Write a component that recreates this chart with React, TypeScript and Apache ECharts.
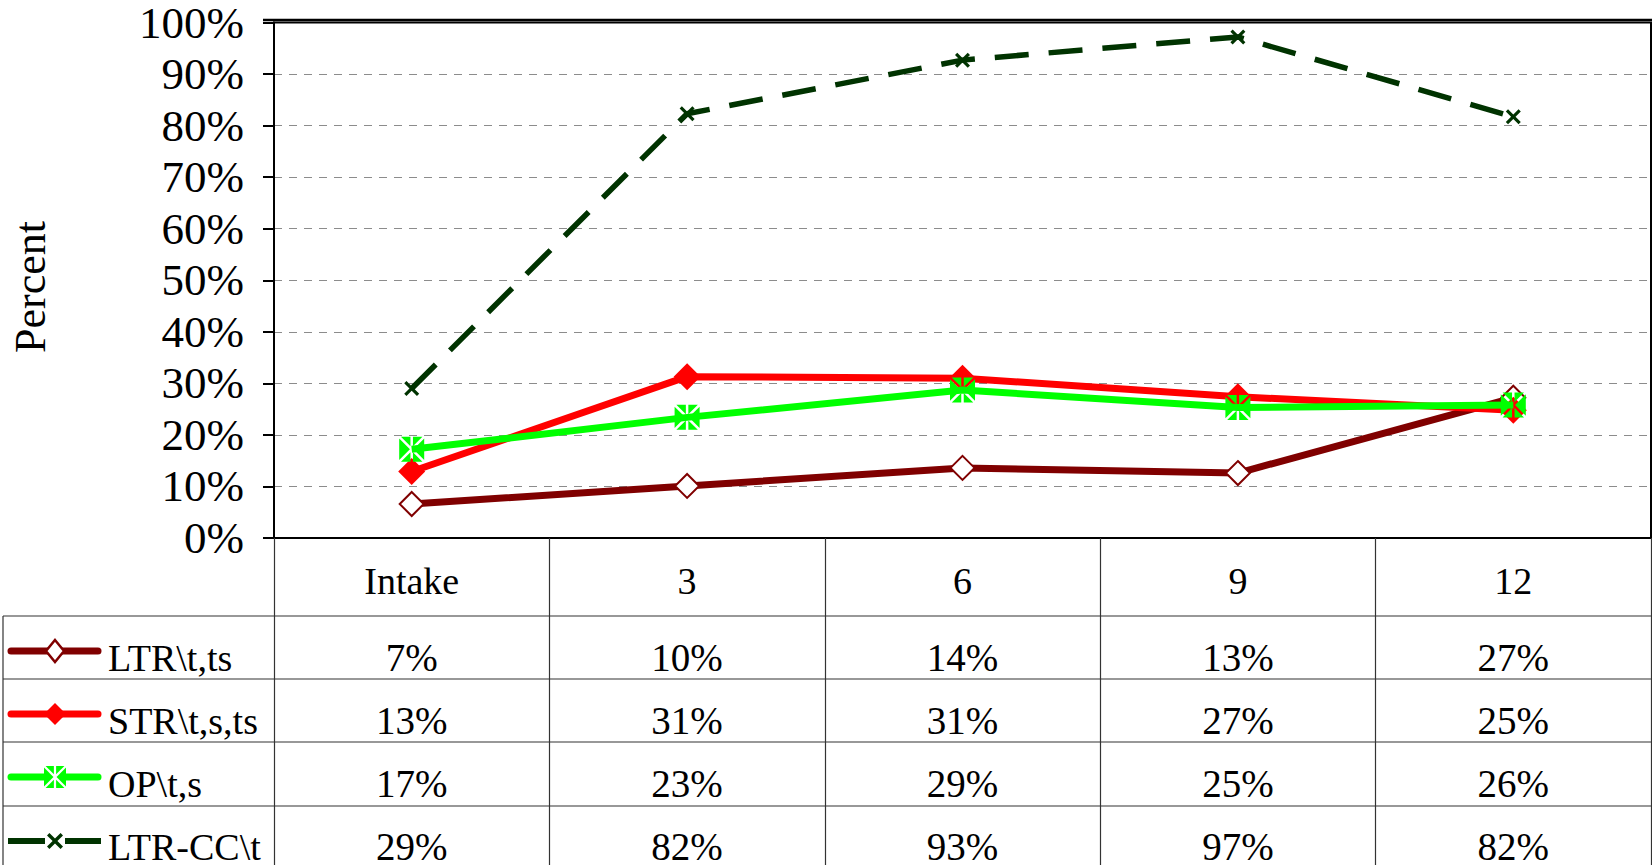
import React, { useEffect, useRef } from "react";
import * as echarts from "echarts";

const categories = ["Intake", "3", "6", "9", "12"];
const seriesNames = ["LTR\\t,ts", "STR\\t,s,ts", "OP\\t,s", "LTR-CC\\t"];
const ltr = [6.6, 10.1, 13.6, 12.6, 27.2];
const str = [12.9, 31.3, 31.0, 27.4, 24.8];
const op = [17.2, 23.4, 28.7, 25.3, 25.8];
const ltrcc = [29.0, 82.3, 92.7, 97.2, 81.7];
const yTicks = { min: 0, max: 100, interval: 10 };

const FONT = "'Liberation Serif', 'Times New Roman', serif";
const W = 1652;
const H = 865;
const GRID = { left: 274, top: 20, right: 1, bottom: 327 };
const COLORS = ["#800000", "#ff0000", "#00ff00", "#003300"];

// green square with a white asterisk cut into it (6 pieces in a 24x24 box)
const OP_PIECES: number[][][] = [
  [[1.7, 0], [10.8, 0], [10.8, 9.1]],
  [[13.2, 0], [22.3, 0], [13.2, 9.1]],
  [[24, 1.7], [24, 22.3], [13.7, 12]],
  [[13.2, 24], [22.3, 24], [13.2, 14.9]],
  [[1.7, 24], [10.8, 24], [10.8, 14.9]],
  [[0, 1.7], [0, 22.3], [10.3, 12]],
];
const X_PTS: number[][] = [
  [0, 1.5], [1.5, 0], [5, 3.5], [8.5, 0], [10, 1.5], [6.5, 5],
  [10, 8.5], [8.5, 10], [5, 6.5], [1.5, 10], [0, 8.5], [3.5, 5],
];
const toPath = (polys: number[][][]) =>
  "path://" +
  polys
    .map((p) => "M" + p.map((q) => q[0] + "," + q[1]).join(" L") + " Z")
    .join(" ");
const OP_SYMBOL = toPath(OP_PIECES);
const X_SYMBOL = toPath([X_PTS]);

export default function App() {
  const ref = useRef<HTMLDivElement>(null);

  useEffect(() => {
    document.body.style.margin = "0";
    document.body.style.overflow = "hidden";
    if (!ref.current) return;
    const chart = echarts.init(ref.current, null, { renderer: "svg", width: W, height: H });
    const allData = [ltr, str, op, ltrcc];

    chart.setOption({
      animation: false,
      backgroundColor: "#fff",
      tooltip: { show: false },
      grid: {
        left: GRID.left,
        top: GRID.top,
        right: GRID.right,
        bottom: GRID.bottom,
        show: true,
        borderColor: "#000",
        borderWidth: 2,
        backgroundColor: "transparent",
      },
      xAxis: {
        type: "category",
        data: categories,
        boundaryGap: true,
        axisLine: { show: true, lineStyle: { color: "#000", width: 2 } },
        axisTick: {
          show: true,
          length: 327,
          alignWithLabel: false,
          lineStyle: { color: "#333", width: 1.2 },
        },
        axisLabel: {
          fontFamily: FONT,
          fontSize: 38,
          color: "#000",
          margin: 24,
          lineHeight: 38,
        },
        splitLine: { show: false },
      },
      yAxis: {
        type: "value",
        min: yTicks.min,
        max: yTicks.max,
        interval: yTicks.interval,
        axisLine: { show: true, lineStyle: { color: "#000", width: 2 } },
        axisTick: { show: true, length: 11, lineStyle: { color: "#000", width: 2 } },
        axisLabel: {
          fontFamily: FONT,
          fontSize: 45,
          color: "#000",
          margin: 30,
          formatter: "{value}%",
        },
        splitLine: {
          show: true,
          showMinLine: false,
          showMaxLine: false,
          lineStyle: { color: "#8c8c8c", width: 1, type: [8, 7] },
        },
      },
      series: [
        {
          name: seriesNames[0],
          type: "line",
          data: ltr,
          symbol: "emptyDiamond",
          symbolSize: 24,
          lineStyle: { color: COLORS[0], width: 7 },
          itemStyle: { color: COLORS[0], borderWidth: 2.5 },
          emphasis: { disabled: true },
          z: 2,
        },
        {
          name: seriesNames[1],
          type: "line",
          data: str,
          symbol: "diamond",
          symbolSize: 27,
          lineStyle: { color: COLORS[1], width: 7 },
          itemStyle: { color: COLORS[1], borderWidth: 0 },
          emphasis: { disabled: true },
          z: 3,
        },
        {
          name: seriesNames[2],
          type: "line",
          data: op,
          symbol: OP_SYMBOL,
          symbolSize: 25,
          lineStyle: { color: COLORS[2], width: 7 },
          itemStyle: { color: COLORS[2], borderWidth: 0 },
          emphasis: { disabled: true },
          z: 4,
        },
        {
          name: seriesNames[3],
          type: "line",
          data: ltrcc,
          symbol: X_SYMBOL,
          symbolSize: 15,
          lineStyle: { color: COLORS[3], width: 5.5, type: [34, 20] },
          itemStyle: { color: COLORS[3], borderWidth: 0 },
          emphasis: { disabled: true },
          z: 5,
        },
      ],
    });

    const rowTops = [616, 679, 742, 806];
    const rowTextY = [657, 720, 783, 846];
    const graphics: any[] = [];

    // solid top border of the plot area
    graphics.push({
      type: "line",
      shape: { x1: 263, y1: 20, x2: W, y2: 20 },
      style: { stroke: "#000", lineWidth: 2.5 },
      silent: true,
      z: 10,
    });

    graphics.push({
      type: "text",
      x: 30,
      y: 287,
      rotation: Math.PI / 2,
      style: {
        text: "Percent",
        fontFamily: FONT,
        fontSize: 44,
        fill: "#000",
        align: "center",
        verticalAlign: "middle",
      },
      silent: true,
    });

    rowTops.forEach((yy) => {
      graphics.push({
        type: "line",
        shape: { x1: 3, y1: yy, x2: W, y2: yy },
        style: { stroke: "#333", lineWidth: 1.2 },
        silent: true,
      });
    });
    graphics.push({
      type: "line",
      shape: { x1: 3, y1: 616, x2: 3, y2: H },
      style: { stroke: "#333", lineWidth: 1.2 },
      silent: true,
    });

    // legend keys inside the table's first column
    seriesNames.forEach((name, r) => {
      const ly = rowTops[r] + 35;
      const color = COLORS[r];
      const lineW = r === 3 ? 6 : 7;
      if (r === 3) {
        graphics.push({
          type: "line",
          shape: { x1: 8, y1: ly, x2: 45, y2: ly },
          style: { stroke: color, lineWidth: lineW },
          silent: true,
        });
        graphics.push({
          type: "line",
          shape: { x1: 65, y1: ly, x2: 101, y2: ly },
          style: { stroke: color, lineWidth: lineW },
          silent: true,
        });
      } else {
        graphics.push({
          type: "line",
          shape: { x1: 11, y1: ly, x2: 98, y2: ly },
          style: { stroke: color, lineWidth: lineW, lineCap: "round" },
          silent: true,
        });
      }
      const cx = 55;
      if (r === 0) {
        graphics.push({
          type: "polygon",
          shape: { points: [[cx, ly - 11], [cx + 9, ly], [cx, ly + 11], [cx - 9, ly]] },
          style: { fill: "#fff", stroke: color, lineWidth: 2.5 },
          silent: true,
        });
      } else if (r === 1) {
        graphics.push({
          type: "polygon",
          shape: { points: [[cx, ly - 11], [cx + 11, ly], [cx, ly + 11], [cx - 11, ly]] },
          style: { fill: color },
          silent: true,
        });
      } else if (r === 2) {
        const s = 22 / 24;
        graphics.push({
          type: "rect",
          shape: { x: cx - 11, y: ly - 11, width: 22, height: 22 },
          style: { fill: "#fff" },
          silent: true,
        });
        OP_PIECES.forEach((piece) => {
          graphics.push({
            type: "polygon",
            shape: { points: piece.map((p) => [cx - 11 + p[0] * s, ly - 11 + p[1] * s]) },
            style: { fill: color },
            silent: true,
          });
        });
      } else {
        const s = 1.6;
        graphics.push({
          type: "polygon",
          shape: { points: X_PTS.map((p) => [cx - 8 + p[0] * s, ly - 8 + p[1] * s]) },
          style: { fill: color },
          silent: true,
        });
      }
      graphics.push({
        type: "text",
        x: 108,
        y: rowTextY[r] + 1,
        style: {
          text: name,
          fontFamily: FONT,
          fontSize: 38,
          lineHeight: 32,
          fill: "#000",
          align: "left",
          verticalAlign: "middle",
        },
        silent: true,
      });
    });

    allData.forEach((arr, r) => {
      arr.forEach((v, c) => {
        const px = chart.convertToPixel({ xAxisIndex: 0 }, categories[c]) as number;
        graphics.push({
          type: "text",
          x: px,
          y: rowTextY[r],
          style: {
            text: Math.round(v) + "%",
            fontFamily: FONT,
            fontSize: 39,
            lineHeight: 32,
            fill: "#000",
            align: "center",
            verticalAlign: "middle",
          },
          silent: true,
        });
      });
    });

    chart.setOption({ graphic: graphics });

    return () => {
      chart.dispose();
    };
  }, []);

  return (
    <div
      ref={ref}
      style={{ position: "absolute", left: 0, top: 0, width: W, height: H, background: "#fff" }}
    />
  );
}
